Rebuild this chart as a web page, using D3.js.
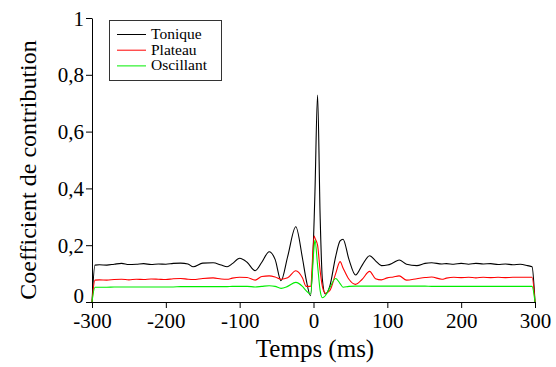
<!DOCTYPE html>
<html><head><meta charset="utf-8">
<script src="https://cdn.jsdelivr.net/npm/d3@7"></script>
<style>
body{margin:0;background:#fff;}
text{font-family:"Liberation Serif","Times New Roman",serif;fill:#000;}
</style></head>
<body><svg id="c" width="556" height="367"></svg>
<script>
const times = [-300,-296,-290,-280,-270,-260,-250,-240,-230,-220,-210,-200,-190,-180,-170,-163,-150,-136,-125,-117,-110,-100,-90,-79,-70,-60,-52,-44,-35,-24,-15,-10,-4,1,2,5.5,9,12,16,22,30,36,40,48,57,66,76,84,92,100,108,116,126,140,151,160,174,180,190,200,210,220,230,240,250,260,270,280,290,296,300];
const tonique = [0,0.130,0.131,0.130,0.133,0.136,0.132,0.133,0.135,0.132,0.134,0.133,0.136,0.137,0.134,0.124,0.137,0.138,0.130,0.124,0.135,0.154,0.140,0.110,0.140,0.177,0.150,0.075,0.160,0.265,0.155,0.080,0.022,0.300,0.390,0.729,0.300,0.080,0.028,0.055,0.160,0.215,0.221,0.150,0.095,0.130,0.163,0.145,0.128,0.130,0.138,0.148,0.133,0.128,0.136,0.138,0.134,0.135,0.133,0.136,0.133,0.136,0.134,0.135,0.132,0.134,0.131,0.133,0.128,0.124,0];
const plateau = [0,0.077,0.078,0.077,0.079,0.080,0.078,0.080,0.079,0.081,0.080,0.079,0.082,0.083,0.080,0.079,0.083,0.085,0.081,0.080,0.084,0.087,0.086,0.077,0.090,0.092,0.088,0.080,0.085,0.110,0.085,0.055,0.055,0.232,0.225,0.200,0.110,0.055,0.031,0.040,0.100,0.142,0.120,0.080,0.062,0.080,0.108,0.082,0.078,0.085,0.088,0.092,0.077,0.082,0.086,0.088,0.080,0.084,0.087,0.086,0.087,0.085,0.087,0.086,0.087,0.086,0.087,0.087,0.087,0.087,0];
const oscillant = [0,0.052,0.052,0.052,0.053,0.053,0.053,0.053,0.053,0.053,0.053,0.053,0.053,0.054,0.054,0.054,0.054,0.054,0.054,0.054,0.055,0.055,0.055,0.053,0.055,0.057,0.055,0.048,0.055,0.069,0.055,0.040,0.028,0.200,0.218,0.130,0.040,0.015,0.022,0.050,0.083,0.065,0.052,0.055,0.056,0.056,0.056,0.056,0.056,0.056,0.056,0.056,0.056,0.056,0.056,0.055,0.055,0.055,0.055,0.055,0.055,0.055,0.055,0.055,0.055,0.055,0.055,0.055,0.055,0.055,0];
const seriesNames = ["Tonique","Plateau","Oscillant"];
const seriesColors = ["#000000","#ff0000","#00ee00"];
const xTicks = [-300,-200,-100,0,100,200,300];
const yTicks = [0,0.2,0.4,0.6,0.8,1];
const xTitle = "Temps (ms)";
const yTitle = "Coefficient de contribution";

const FONT = "'Liberation Serif','Times New Roman',serif";
const svg = d3.select("#c");
const x = d3.scaleLinear().domain([-300,300]).range([92,535]);
const y = d3.scaleLinear().domain([0,1]).range([302,18]);

const fmtY = v => v===0 ? "0" : v===1 ? "1" : d3.format(".1f")(v).replace(".",",");

const gy = svg.append("g").attr("transform","translate(92,0)")
  .call(d3.axisLeft(y).tickValues(yTicks).tickFormat(fmtY).tickSize(6).tickSizeOuter(0).tickPadding(2));
gy.attr("font-family",FONT).attr("font-size",21);
gy.selectAll("text").attr("dy","0.34em");
gy.selectAll(".tick").filter(d=>d===0).select("text").attr("dy","0.04em");
gy.select(".domain").attr("stroke","#000");

const gx = svg.append("g").attr("transform","translate(0,302)")
  .call(d3.axisBottom(x).tickValues(xTicks).tickFormat(d=>String(d)).tickSize(6).tickSizeOuter(0).tickPadding(5));
gx.attr("font-family",FONT).attr("font-size",21);
gx.select(".domain").attr("stroke","#000");

const allSeries = [tonique, plateau, oscillant];
const line = d3.line().x((d,i)=>x(times[i])).y(d=>y(d)).curve(d3.curveMonotoneX);
allSeries.forEach((s,k)=>{
  svg.append("path").datum(s).attr("d",line).attr("fill","none")
    .attr("stroke",seriesColors[k]).attr("stroke-width",1.1);
});

svg.append("text").attr("x",315).attr("y",357).attr("text-anchor","middle")
  .style("font-size","25px").text(xTitle);
svg.append("text").attr("transform","translate(36,170) rotate(-90)").attr("text-anchor","middle")
  .style("font-size","24px").text(yTitle);

const lg = svg.append("g");
lg.append("rect").attr("x",109.5).attr("y",20.5).attr("width",112).attr("height",60)
  .attr("fill","#fff").attr("stroke","#333").attr("stroke-width",1);
seriesNames.forEach((n,k)=>{
  const yy = 34.5 + k*15.7;
  lg.append("line").attr("x1",117).attr("x2",146).attr("y1",yy).attr("y2",yy)
    .attr("stroke",seriesColors[k]).attr("stroke-width",1);
  lg.append("text").attr("x",151).attr("y",yy+4.5).style("font-size","15.5px").text(n);
});
</script></body></html>
